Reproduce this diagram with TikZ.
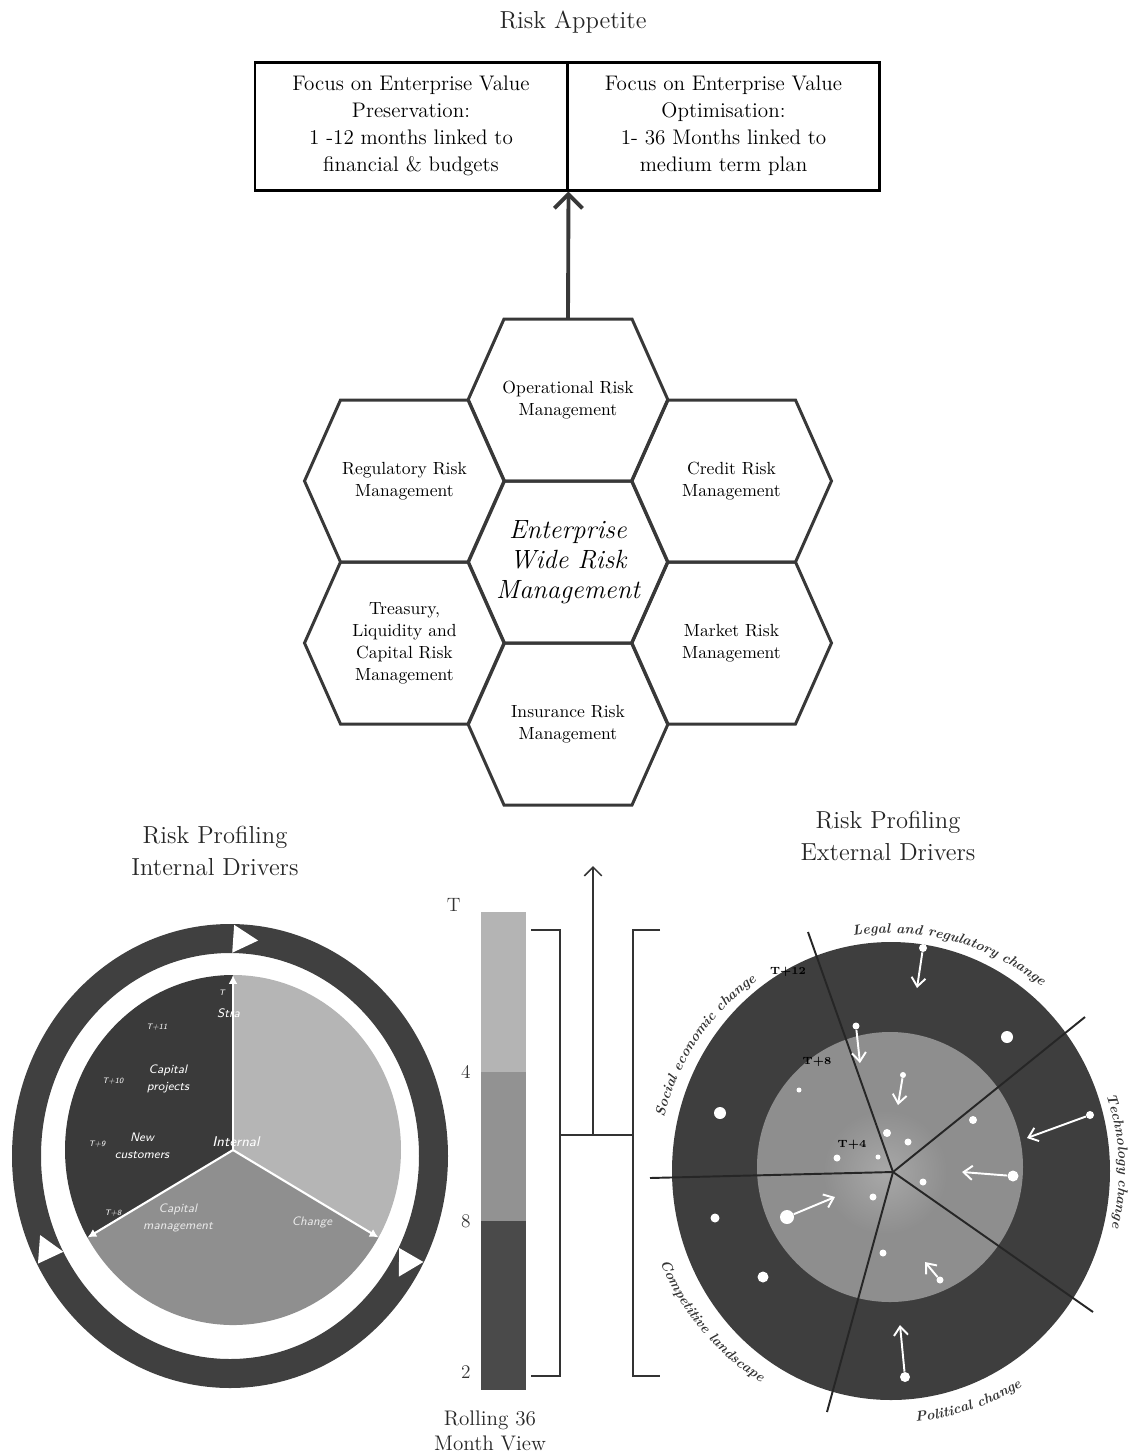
\documentclass[tikz,border=0pt]{standalone}
\usepackage{tikz}
\usetikzlibrary{positioning, arrows.meta, decorations.text, calc}

\definecolor{hexline}{HTML}{383838}
\definecolor{ringdark}{HTML}{404040}
\definecolor{piedark}{HTML}{3A3A3A}
\definecolor{pielight}{HTML}{B5B5B5}
\definecolor{piemid}{HTML}{8F8F8F}
\definecolor{extdark}{HTML}{3E3E3E}
\definecolor{extmid}{HTML}{8E8E8E}
\definecolor{extlight}{HTML}{A8A8A8}
\definecolor{barlight}{HTML}{B4B4B4}
\definecolor{barmid}{HTML}{929292}
\definecolor{bardark}{HTML}{4A4A4A}

\newcommand{\driverfont}{\bfseries\itshape\fontsize{8}{9.5}\selectfont\color{black!80}}

\tikzset{
  heading/.style={font=\fontsize{14}{18.7}\selectfont, align=center, text=black!85},
  focusbox/.style={draw=black, line width=1.7pt, minimum width=62.4mm, minimum height=25.6mm,
    align=center, font=\fontsize{12}{15.3}\selectfont, inner sep=0pt},
  hexlabel/.style={font=\fontsize{10}{12.5}\selectfont, align=center, text=black},
  hexcell/.style={draw=hexline, line width=1.7pt, line join=miter},
  pietext/.style={text=white, font=\sffamily\itshape\fontsize{7}{9.6}\selectfont, align=center},
  tlabel/.style={text=white, font=\sffamily\itshape\fontsize{4.5}{5}\selectfont},
  divider/.style={draw=white, line width=1.2pt, -{Latex[length=5pt,width=5pt]}},
  segment/.style={minimum width=9mm, inner sep=0pt, outer sep=0pt, draw=none, anchor=north},
  tick/.style={font=\fontsize{11}{13}\selectfont, text=black!80, inner sep=0pt},
  bracket/.style={draw=black!80, line width=0.9pt},
  spoke/.style={draw=black!85, line width=1.1pt},
  blip/.style={circle, fill=white, draw=none, inner sep=0pt},
  drift/.style={draw=white, line width=1.1pt, -{Straight Barb[length=5pt,width=8pt]}},
  tmark/.style={font=\bfseries\fontsize{6}{7}\selectfont, text=black},
  ringtext/.style={decorate, decoration={text along path, text align=center, text={|\driverfont|#1}}}
}

\begin{document}
\begin{tikzpicture}[x=0.2mm, y=0.2mm]
  \useasboundingbox (0,0) rectangle (1131,-1456);

  % risk appetite
  \node[heading] (appetite) at (573,-22) {Risk Appetite};
  \node[focusbox] (preserve) at (411,-126) {Focus on Enterprise Value\\Preservation:\\1 -12 months linked to\\financial \& budgets};
  \node[focusbox] (optimise) at (723.5,-126) {Focus on Enterprise Value\\Optimisation:\\1- 36 Months linked to\\medium term plan};

  % honeycomb
  \node[hexlabel] (operational) at (568,-400) {Operational Risk\\Management};
  \node[hexlabel] (regulatory) at (404.5,-481) {Regulatory Risk\\Management};
  \node[hexlabel] (credit) at (731.5,-481) {Credit Risk\\Management};
  \node[hexlabel, font=\itshape\fontsize{15}{17}\selectfont] (ewrm) at (568,-562) {Enterprise\\Wide Risk\\Management};
  \node[hexlabel] (treasury) at (404.5,-643) {Treasury,\\Liquidity and\\Capital Risk\\Management};
  \node[hexlabel] (market) at (731.5,-643) {Market Risk\\Management};
  \node[hexlabel] (insurance) at (568,-724) {Insurance Risk\\Management};
  \foreach \cell in {operational,regulatory,credit,ewrm,treasury,market,insurance}
    \draw[hexcell] ($(\cell.center)+(-100,0)$) -- ++(36,81) -- ++(128,0) -- ++(36,-81)
      -- ++(-36,-81) -- ++(-128,0) -- cycle;
  \draw[hexline, line width=2.2pt, -{Straight Barb[length=8pt,width=16pt]}]
    ($(operational.center)+(0,81)$) -- (preserve.south east);

  % internal drivers
  \node[heading] (internal) at (215,-851) {Risk Profiling\\Internal Drivers};
  \coordinate (wheel) at (230,-1156);
  \coordinate (pie) at (233,-1150);
  \fill[ringdark, even odd rule] (wheel) ellipse [x radius=218, y radius=232]
    (wheel) ellipse [x radius=189, y radius=203];
  \foreach \ang in {86,-30,205}
    \fill[white, shift={($(wheel)+({203*cos(\ang)},{217*sin(\ang)})$)}, rotate=\ang-90]
      (-11,14) -- (14,0) -- (-11,-14) -- cycle;
  \fill[piedark] (pie) -- ++(0,175) arc [start angle=90, end angle=210, x radius=168, y radius=175] -- cycle;
  \fill[pielight] (pie) -- ++(0,175) arc [start angle=90, end angle=-30, x radius=168, y radius=175] -- cycle;
  \fill[piemid] (pie) -- ++({168*cos(210)},{175*sin(210)}) arc [start angle=210, end angle=330, x radius=168, y radius=175] -- cycle;

  \node[tlabel] (tzero) at (222,-993) {T};
  \node[pietext, anchor=west] (strategy) at (211,-1013) {Stra};
  \node[tlabel] (televen) at (157,-1027) {T+11};
  \node[tlabel] (tten) at (113,-1081) {T+10};
  \node[pietext] (projects) at (168,-1079) {Capital\\projects};
  \node[tlabel] (tnine) at (97,-1144) {T+9};
  \node[pietext] (customers) at (142,-1146) {New\\customers};
  \node[pietext, font=\sffamily\itshape\fontsize{8}{9}\selectfont] (intfactor) at (236,-1142) {Internal};
  \node[tlabel] (teight) at (113,-1213) {T+8};
  \node[pietext, opacity=0.8] (capman) at (178,-1218) {Capital\\management};
  \node[pietext, opacity=0.8] (change) at (312,-1222) {Change};
  \foreach \ang in {90,210,330}
    \draw[divider] (pie) -- ++({168*cos(\ang)},{175*sin(\ang)});

  % rolling view
  \node[segment, fill=barlight, minimum height=32mm] (segtop) at (503.5,-912) {};
  \node[segment, fill=barmid, minimum height=29.8mm] (segmid) at (segtop.south) {};
  \node[segment, fill=bardark, minimum height=33.8mm] (segbot) at (segmid.south) {};
  \node[tick, left=4mm of segtop.north west, yshift=1.4mm] (tickT) {T};
  \node[tick, left=2mm of segtop.south west] (tick4) {4};
  \node[tick, left=2mm of segmid.south west] (tick8) {8};
  \node[tick, left=2mm of segbot.south west, yshift=3.6mm] (tick2) {2};
  \node[font=\fontsize{12}{14.5}\selectfont, align=center, text=black!85] (rolling) at (490,-1431) {Rolling 36\\Month View};

  \coordinate (fork) at (560,-1135);
  \coordinate (joint) at (633,-1135);
  \coordinate (outlet) at (593,-1135);
  \coordinate (riskup) at (593,-866);
  \draw[bracket] (531,-930) -| (fork) |- (531,-1376);
  \draw[bracket] (660,-930) -| (joint) |- (660,-1376);
  \draw[bracket] (fork) -- (joint);
  \draw[bracket, -{Straight Barb[length=5pt,width=10pt]}] (outlet) -- (riskup);

  % external drivers
  \node[heading] (external) at (888,-836) {Risk Profiling\\External Drivers};
  \coordinate (globe) at (891,-1171);
  \coordinate (hub) at (893,-1172);
  \fill[extdark] (globe) ellipse [x radius=219, y radius=229];
  \fill[extmid] (890,-1167) ellipse [x radius=133, y radius=135];
  \shade[inner color=extlight, outer color=extmid] (885,-1172) circle [radius=62];
  \foreach \x/\y [count=\i] in {808/-932,1085/-1017,1093/-1312,827/-1412,650/-1178}{
    \coordinate (rim\i) at (\x,\y);
    \draw[spoke] (hub) -- (rim\i);
  }

  \foreach \x/\y/\d [count=\i] in {1007/-1037/12,720/-1113/12,715/-1218/9,763/-1277/11,
      799/-1090/5,973/-1120/8,887/-1133/8,908/-1142/7,837/-1158/7,878/-1157/5,
      923/-1182/7,873/-1197/7,883/-1253/7}
    \node[blip, minimum size=\d*0.2mm] (dot\i) at (\x,\y) {};
  \foreach \sx/\sy/\ex/\ey/\d [count=\i] in {923/-948/917/-988/8,1090/-1115/1027/-1138/8,
      905/-1377/900/-1325/10,856/-1026/860/-1063/7,903/-1075/898/-1105/6,
      1013/-1176/962/-1172/11,787/-1217/835/-1197/14,940/-1280/925/-1262/7}{
    \node[blip, minimum size=\d*0.2mm] (src\i) at (\sx,\sy) {};
    \coordinate (dst\i) at (\ex,\ey);
    \draw[drift] (src\i) -- (dst\i);
  }

  \node[tmark] (ttwelve) at (788,-972) {T+12};
  \node[tmark] (teightx) at (817,-1062) {T+8};
  \node[tmark] (tfour) at (852,-1145) {T+4};

  \path[ringtext={Legal and regulatory change}] ($(globe)+(115:238)$) arc [start angle=115, end angle=35, radius=238];
  \path[ringtext={Technology change}] ($(globe)+(40:228)$) arc [start angle=40, end angle=-35, radius=228];
  \path[ringtext={Social economic change}] ($(globe)+(190:233)$) arc [start angle=190, end angle=102, radius=233];
  \path[ringtext={Political change}] ($(globe)+(-110:252)$) arc [start angle=-110, end angle=-33, radius=252];
  \path[ringtext={Competitive landscape}] ($(globe)+(178:248)$) arc [start angle=178, end angle=262, radius=248];
\end{tikzpicture}
\end{document}
